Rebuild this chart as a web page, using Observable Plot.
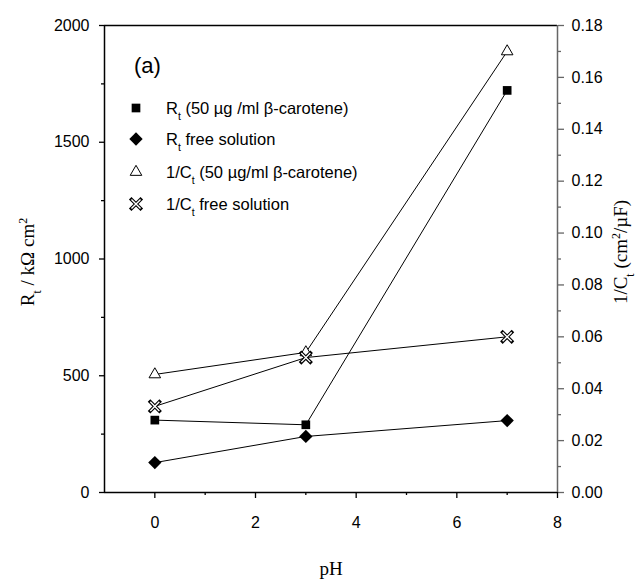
<!DOCTYPE html>
<html><head><meta charset="utf-8">
<script src="https://cdn.jsdelivr.net/npm/d3@7"></script>
<script src="https://cdn.jsdelivr.net/npm/@observablehq/plot@0.6"></script>
<style>
body{margin:0;background:#fff;}
#chart{position:relative;width:642px;height:579px;}
</style></head><body><div id="chart"></div>
<script>
// ---- data ----
const pH = [0, 3, 7];
const rtBeta = [310, 290, 1722];          // R_t (50 µg/ml β-carotene), kΩ cm²
const rtFree = [128, 240, 308];           // R_t free solution
const invCtBeta = [0.0455, 0.054, 0.170]; // 1/C_t (50 µg/ml β-carotene)
const invCtFree = [0.0332, 0.052, 0.060]; // 1/C_t free solution
const leftTicks = [0, 500, 1000, 1500, 2000];
const leftMinor = [250, 750, 1250, 1750];
const rightTicks = [0, 0.02, 0.04, 0.06, 0.08, 0.10, 0.12, 0.14, 0.16, 0.18];
const rightMinor = [0.01, 0.03, 0.05, 0.07, 0.09, 0.11, 0.13, 0.15, 0.17];
const xTicks = [0, 2, 4, 6, 8];
const xMinor = [1, 3, 5, 7];
const legendLabels = [
  ["R", "t", " (50 \u00B5g /ml \u03B2-carotene)"],
  ["R", "t", " free solution"],
  ["1/C", "t", " (50 \u00B5g/ml \u03B2-carotene)"],
  ["1/C", "t", " free solution"]
];

const ratio = 2000 / 0.18;
const mk = (ys, s = 1) => pH.map((x, i) => ({x, y: ys[i] * s}));
const sA = mk(rtBeta), sB = mk(rtFree), sC = mk(invCtBeta, ratio), sD = mk(invCtFree, ratio);
const numFont = '"Liberation Sans Narrow","Arial Narrow","Liberation Sans",Arial,sans-serif';
const serif = '"Liberation Serif","Times New Roman",serif';
const none = () => "";
const R = {sq: 4.9, di: 6, tri: 4.3, x: 4.2};

const plot = Plot.plot({
  width: 642, height: 579,
  marginLeft: 104, marginRight: 85, marginTop: 25, marginBottom: 87,
  style: {fontFamily: numFont, fontSize: "16px", color: "black", background: "white"},
  x: {domain: [-1, 8]},
  y: {domain: [0, 2000]},
  marks: [
    Plot.axisY(leftMinor, {anchor: "left", tickSize: 3, strokeWidth: 1.3, tickFormat: none, label: null}),
    Plot.axisY(leftTicks, {anchor: "left", tickSize: 5, tickPadding: 10, strokeWidth: 1.3, tickFormat: d => String(d), label: null}),
    Plot.axisY(rightMinor.map(v => v * ratio), {anchor: "right", tickSize: 3, stroke: "#666", strokeWidth: 1.3, tickFormat: none, label: null}),
    Plot.axisY(rightTicks.map(v => v * ratio), {anchor: "right", tickSize: 6, tickPadding: 8, stroke: "#666", strokeWidth: 1.3, tickFormat: d => (d / ratio).toFixed(2), label: null}),
    Plot.axisX(xMinor, {anchor: "bottom", tickSize: 3, strokeWidth: 1.3, tickFormat: none, label: null}),
    Plot.axisX(xTicks, {anchor: "bottom", tickSize: 6, tickPadding: 18, strokeWidth: 1.3, tickFormat: d => String(d), label: null}),
    Plot.ruleY([0, 2000], {stroke: "black", strokeWidth: 1.5}),
    Plot.ruleX([-1], {stroke: "black", strokeWidth: 1.5}),
    Plot.ruleX([8], {stroke: "#666", strokeWidth: 1.5}),
    Plot.line(sA, {x: "x", y: "y", stroke: "black", strokeWidth: 1}),
    Plot.line(sB, {x: "x", y: "y", stroke: "black", strokeWidth: 1}),
    Plot.line(sC, {x: "x", y: "y", stroke: "black", strokeWidth: 1}),
    Plot.line(sD, {x: "x", y: "y", stroke: "black", strokeWidth: 1}),
    Plot.dot(sC, {x: "x", y: "y", symbol: "triangle", fill: "white", stroke: "black", strokeWidth: 1, r: R.tri}),
    Plot.dot(sD, {x: "x", y: "y", symbol: "times", stroke: "black", strokeWidth: 3.6, strokeLinecap: "square", r: R.x}),
    Plot.dot(sD, {x: "x", y: "y", symbol: "times", stroke: "white", strokeWidth: 1.4, r: R.x}),
    Plot.dot(sB, {x: "x", y: "y", symbol: "diamond2", fill: "black", r: R.di}),
    Plot.dot(sA, {x: "x", y: "y", symbol: "square", fill: "black", r: R.sq})
  ]
});
document.getElementById("chart").appendChild(plot);

const svg = d3.select(plot);
// axis titles
const lt = svg.append("text").attr("transform", "translate(34,262) rotate(-90)")
  .attr("text-anchor", "middle").style("font-family", serif).style("font-size", "19px").attr("fill", "black");
lt.append("tspan").text("R");
lt.append("tspan").attr("baseline-shift", "sub").style("font-size", "12px").text("t");
lt.append("tspan").text(" / k\u03A9 cm");
lt.append("tspan").attr("baseline-shift", "super").style("font-size", "12px").text("2");

const rt = svg.append("text").attr("transform", "translate(627,252) rotate(-90)")
  .attr("text-anchor", "middle").style("font-family", serif).style("font-size", "19px").attr("fill", "black");
rt.append("tspan").text("1/C");
rt.append("tspan").attr("baseline-shift", "sub").style("font-size", "12px").text("t");
rt.append("tspan").text(" (cm");
rt.append("tspan").attr("baseline-shift", "super").style("font-size", "12px").text("2");
rt.append("tspan").text("/\u00B5F)");

svg.append("text").attr("x", 331).attr("y", 575).attr("text-anchor", "middle")
  .style("font-family", serif).style("font-size", "19px").attr("fill", "black").text("pH");

// panel label
svg.append("text").attr("x", 134).attr("y", 73).attr("text-anchor", "start").style("font-family", numFont)
  .style("font-size", "22px").attr("fill", "black").text("(a)");

// legend
const rowsY = [108, 139, 172, 204];
const symX = 136, txtX = 166;
const sym = [
  {s: d3.symbolSquare, size: Math.PI * R.sq * R.sq, fill: "black", stroke: "none", sw: 0},
  {s: d3.symbolDiamond2, size: Math.PI * R.di * R.di, fill: "black", stroke: "none", sw: 0},
  {s: d3.symbolTriangle, size: Math.PI * R.tri * R.tri, fill: "white", stroke: "black", sw: 1},
  {s: d3.symbolTimes, size: Math.PI * R.x * R.x, fill: "none", stroke: "black", sw: 3.6}
];
legendLabels.forEach((lab, i) => {
  const y = rowsY[i];
  const p = svg.append("path").attr("transform", `translate(${symX},${y})`)
    .attr("d", d3.symbol(sym[i].s, sym[i].size)()).attr("fill", sym[i].fill)
    .attr("stroke", sym[i].stroke).attr("stroke-width", sym[i].sw);
  if (i === 3) {
    p.attr("stroke-linecap", "square");
    svg.append("path").attr("transform", `translate(${symX},${y})`)
      .attr("d", d3.symbol(d3.symbolTimes, sym[i].size)()).attr("fill", "none")
      .attr("stroke", "white").attr("stroke-width", 1.4);
  }
  const t = svg.append("text").attr("x", txtX).attr("y", y).attr("dy", "0.35em")
    .attr("text-anchor", "start")
    .style("font-family", numFont).style("font-size", "16.5px").attr("fill", "black");
  t.append("tspan").text(lab[0]);
  t.append("tspan").attr("baseline-shift", "sub").style("font-size", "10.5px").text(lab[1]);
  t.append("tspan").text(lab[2]);
});
</script>
</body></html>
